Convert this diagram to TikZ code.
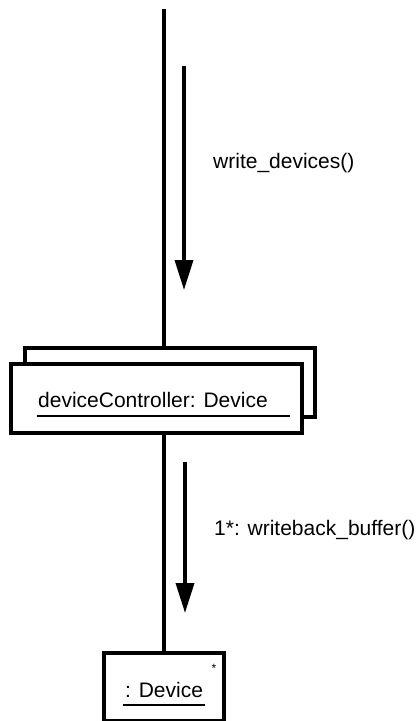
\documentclass[tikz,border=0pt]{standalone}
\usepackage{fontspec}
\setmainfont{Liberation Sans}
\usetikzlibrary{arrows.meta}
\begin{document}
\begin{tikzpicture}[x=1pt,y=-1pt,
  lbl/.style={font=\fontsize{21}{25}\selectfont, inner sep=0pt, anchor=base west},
  objbox/.style={draw, line width=4pt, fill=white, rectangle, inner sep=0pt},
  link/.style={line width=4pt},
  msg/.style={line width=3.5pt, -{Triangle[length=30pt,width=18pt]}},
  uline/.style={line width=2pt}]
\useasboundingbox (0,0) rectangle (417,721);

% stacked multi-object: back copy first, front copy on top
\node[objbox, minimum width=290pt, minimum height=69pt] (devback) at (170,382.5) {};
\node[objbox, minimum width=291pt, minimum height=69pt] (devctl) at (156.5,398.5) {};
\node[lbl] (devctltxt) at (38,407) {deviceController: Device};
\draw[uline] (37,416) -- (290,416);

% single object with multiplicity mark
\node[objbox, minimum width=120pt, minimum height=67.5pt] (dev) at (164,686.75) {};
\node[lbl] (devtxt) at (125,697) {: Device};
\draw[uline] (123,705) -- (205,705);
\node[font=\fontsize{12}{12}\selectfont, inner sep=0pt] (mult) at (214,668) {*};

% links
\coordinate (top) at (164,9);
\draw[link] (top) -- (top |- devback.north);
\draw[link] (top |- devctl.south) -- (top |- dev.north);

% messages
\coordinate (m1s) at (184,66);
\coordinate (m1e) at (184,290);
\draw[msg] (m1s) -- (m1e);
\node[lbl] (m1lbl) at (213,168) {write\_devices()};

\coordinate (m2s) at (185,462);
\coordinate (m2e) at (185,613);
\draw[msg] (m2s) -- (m2e);
\node[lbl] (m2lbl) at (214,535) {1*: writeback\_buffer()};
\end{tikzpicture}
\end{document}
